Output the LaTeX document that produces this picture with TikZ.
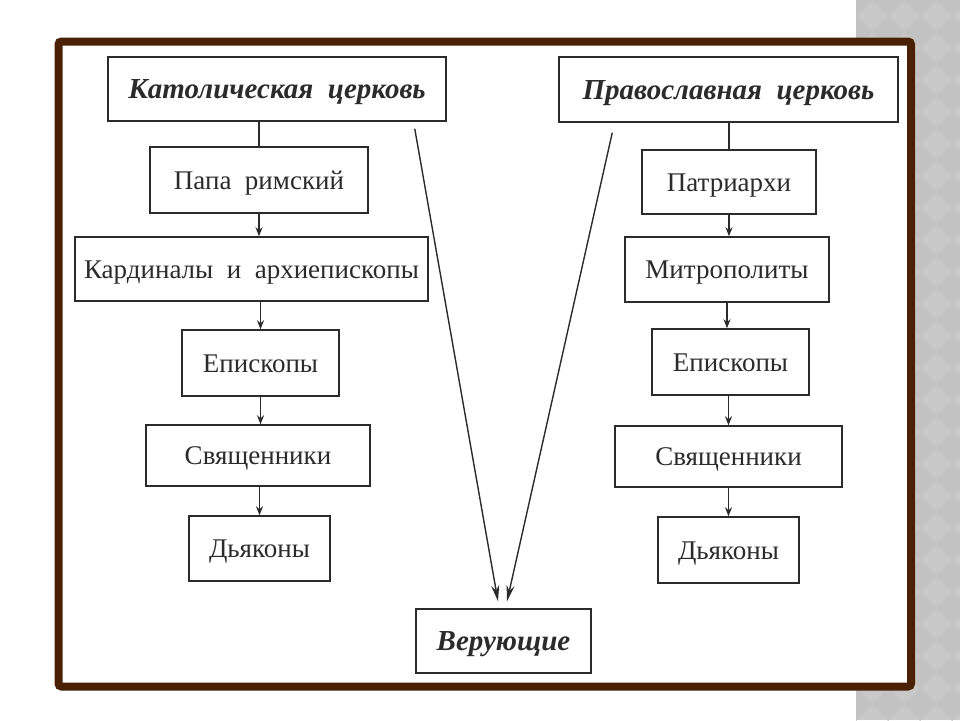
\documentclass[tikz,border=0pt]{standalone}
\usepackage{fontspec}
\setmainfont{Liberation Serif}
\usetikzlibrary{calc, arrows.meta}
\definecolor{framebrown}{HTML}{4B2106}
\definecolor{stripgray}{HTML}{C8C8C8}
\definecolor{diamondgray}{HTML}{C2C2C2}
\definecolor{inkgray}{HTML}{2B2B2B}
\tikzset{
  rank/.style={draw=inkgray, line width=1.5pt, fill=white, text=inkgray, font=\fontsize{27}{32}\selectfont, inner sep=0pt, text height=18pt, text depth=0pt},
  church/.style={rank, font=\fontsize{29}{34}\selectfont\bfseries\itshape, text height=19pt},
  down/.style={draw=inkgray, line width=1.5pt, -{Stealth[length=9pt,width=7pt]}},
  toflock/.style={draw=inkgray, line width=1.4pt, -{Stealth[length=16pt,width=8pt]}}
}

\begin{document}
\begin{tikzpicture}[x=1pt,y=-1pt]
  \useasboundingbox (0,0) rectangle (960,720);
  % grey strip on the right
  \fill[stripgray] (856,0) rectangle (960,720);
  \begin{scope}
    \clip (856,0) rectangle (960,720);
    \foreach \i in {0,...,4}
      \foreach \j in {0,...,23}
        \fill[diamondgray] (856+32*\i,32*\j) ++(0,-16) -- ++(16,16) -- ++(-16,16) -- ++(-16,-16) -- cycle;
  \end{scope}
  % frame
  \draw[framebrown, line width=8pt, fill=white, rounded corners=3pt] (58.5,41.5) rectangle (911,686.5);

  % catholic side
  \node[church, minimum width=338, minimum height=64] (kat) at (277,89) {Католическая\ \ церковь};
  \node[rank, minimum width=218, minimum height=66] (papa) at (259,180) {Папа\ \ римский};
  \node[rank, minimum width=353, minimum height=64] (kard) at (251.5,269) {Кардиналы\ \ и\ \ архиепископы};
  \node[rank, minimum width=157, minimum height=66] (episL) at (260.5,363) {Епископы};
  \node[rank, minimum width=224, minimum height=61] (svjaL) at (258,455.5) {Священники};
  \node[rank, minimum width=141, minimum height=65] (djakL) at (259.5,548.5) {Дьяконы};

  % orthodox side
  \node[church, minimum width=339, minimum height=65] (prav) at (728.5,89.5) {Православная\ \ церковь};
  \node[rank, minimum width=174, minimum height=64] (patr) at (729,182) {Патриархи};
  \node[rank, minimum width=204, minimum height=65] (mitr) at (727,269.5) {Митрополиты};
  \node[rank, minimum width=157, minimum height=66] (episR) at (730.5,362) {Епископы};
  \node[rank, minimum width=227, minimum height=61] (svjaR) at (728.5,456.5) {Священники};
  \node[rank, minimum width=141, minimum height=66] (djakR) at (728.5,550) {Дьяконы};

  \node[church, minimum width=175, minimum height=64] (ver) at (503.5,641) {Верующие};

  % chains
  \draw[inkgray, line width=1.5pt] (papa.north) -- (papa.north |- kat.south);
  \draw[down] (papa.south) -- (papa.south |- kard.north);
  \draw[down] (episL.north |- kard.south) -- (episL.north);
  \draw[down] (episL.south) -- (episL.south |- svjaL.north);
  \draw[down] (djakL.north |- svjaL.south) -- (djakL.north);

  \draw[inkgray, line width=1.5pt] (patr.north) -- (patr.north |- prav.south);
  \draw[down] (patr.south) -- (patr.south |- mitr.north);
  \draw[down] (mitr.south) -- (mitr.south |- episR.north);
  \draw[down] (svjaR.north |- episR.south) -- (svjaR.north);
  \draw[down] (djakR.north |- svjaR.south) -- (djakR.north);

  % to the believers
  \coordinate (katfoot) at ($(kat.south east)+(-32,7)$);
  \coordinate (pravfoot) at ($(prav.south west)+(54,10)$);
  \coordinate (verleft) at ($(ver.north)+(-5.5,-7)$);
  \coordinate (verright) at ($(ver.north)+(3.5,-7)$);
  \draw[toflock] (katfoot) -- (verleft);
  \draw[toflock] (pravfoot) -- (verright);
\end{tikzpicture}
\end{document}
